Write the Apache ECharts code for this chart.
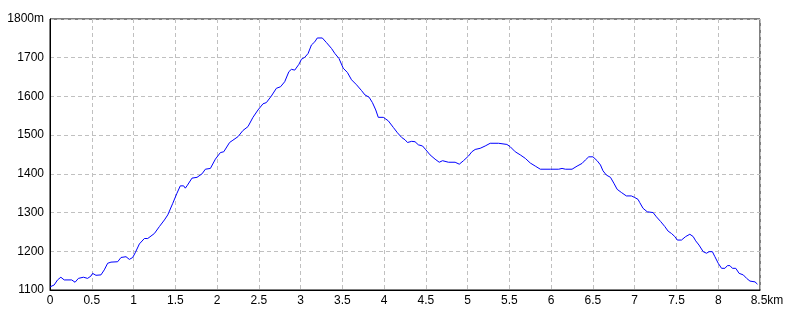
<!DOCTYPE html>
<html>
<head>
<meta charset="utf-8">
<script src="https://cdn.jsdelivr.net/npm/echarts@6/dist/echarts.min.js"></script>
<style>html,body{margin:0;padding:0;background:#fff;}#c{width:800px;height:320px;}</style>
</head>
<body>
<div id="c"></div>
<script>
const distanceKm = [0.00,0.05,0.09,0.13,0.17,0.26,0.30,0.34,0.40,0.45,0.49,0.51,0.55,0.61,0.65,0.69,0.73,0.81,0.85,0.91,0.95,0.99,1.02,1.07,1.13,1.17,1.25,1.31,1.37,1.41,1.47,1.52,1.56,1.60,1.62,1.64,1.70,1.76,1.82,1.86,1.92,1.98,2.04,2.08,2.15,2.19,2.25,2.31,2.37,2.43,2.49,2.55,2.59,2.65,2.71,2.76,2.81,2.86,2.89,2.93,2.95,2.98,3.01,3.05,3.09,3.13,3.17,3.20,3.26,3.31,3.37,3.41,3.46,3.51,3.56,3.61,3.67,3.73,3.77,3.82,3.86,3.90,3.93,3.99,4.05,4.11,4.16,4.21,4.25,4.28,4.33,4.37,4.41,4.46,4.50,4.55,4.61,4.66,4.70,4.77,4.85,4.90,4.95,5.01,5.05,5.09,5.15,5.21,5.27,5.37,5.47,5.51,5.57,5.63,5.69,5.75,5.81,5.87,5.99,6.09,6.13,6.17,6.25,6.31,6.37,6.41,6.45,6.50,6.55,6.59,6.62,6.66,6.71,6.75,6.79,6.84,6.90,6.96,7.00,7.04,7.06,7.10,7.15,7.22,7.26,7.31,7.36,7.40,7.44,7.48,7.51,7.56,7.61,7.66,7.70,7.73,7.77,7.82,7.86,7.89,7.93,7.96,8.00,8.04,8.08,8.11,8.14,8.17,8.21,8.25,8.30,8.34,8.38,8.44,8.47];
const elevationM = [1108,1113,1126,1133,1126,1126,1120,1130,1133,1130,1136,1143,1138,1139,1152,1169,1172,1173,1184,1186,1179,1184,1196,1219,1233,1233,1246,1264,1281,1294,1324,1350,1369,1369,1363,1369,1389,1391,1400,1412,1414,1438,1455,1457,1481,1487,1496,1512,1522,1546,1565,1581,1584,1601,1621,1625,1638,1664,1670,1668,1666,1683,1696,1701,1711,1733,1741,1751,1751,1739,1724,1711,1698,1673,1662,1643,1630,1615,1604,1598,1584,1565,1546,1546,1537,1520,1506,1494,1488,1481,1484,1483,1475,1472,1462,1449,1438,1430,1434,1430,1430,1425,1434,1446,1457,1463,1466,1472,1479,1479,1476,1470,1457,1449,1440,1428,1420,1412,1412,1412,1414,1412,1412,1420,1427,1436,1444,1444,1434,1423,1408,1397,1391,1376,1360,1352,1343,1343,1339,1334,1326,1311,1302,1300,1289,1277,1264,1252,1246,1238,1229,1229,1238,1244,1238,1227,1216,1199,1195,1199,1199,1186,1169,1156,1156,1163,1163,1156,1156,1143,1139,1130,1123,1121,1115];
const xTicks = {min: 0, max: 8.5, step: 0.5, unit: 'km'};
const yTicks = {min: 1100, max: 1800, step: 100, unit: 'm'};

const FONT = "'Liberation Sans Narrow', 'Liberation Sans', 'DejaVu Sans', sans-serif";
const FS = 12;
const chart = echarts.init(document.getElementById('c'), null, {renderer: 'canvas'});
const data = distanceKm.map((d, i) => [d, elevationM[i]]);
chart.setOption({
  animation: false,
  backgroundColor: '#ffffff',
  grid: {left: 50, right: 40, top: 19, bottom: 30, show: true, borderColor: '#000', borderWidth: 1, backgroundColor: 'transparent'},
  xAxis: {
    type: 'value', min: xTicks.min, max: xTicks.max, interval: xTicks.step,
    axisLine: {show: true, onZero: false, lineStyle: {color: '#000', width: 1}},
    axisTick: {show: false},
    splitLine: {show: true, lineStyle: {color: '#c0c0c0', type: [4, 3], width: 1}},
    axisLabel: {
      margin: 5, color: '#000', fontFamily: FONT, fontSize: FS,
      formatter: v => v === xTicks.max ? '{p| }' + v + xTicks.unit : String(v),
      rich: {p: {width: 14, fontFamily: FONT, fontSize: FS}}
    }
  },
  yAxis: {
    type: 'value', min: yTicks.min, max: yTicks.max, interval: yTicks.step,
    axisLine: {show: true, lineStyle: {color: '#000', width: 1}},
    axisTick: {show: false},
    splitLine: {show: true, lineStyle: {color: '#c0c0c0', type: [4, 3], width: 1}},
    axisLabel: {
      margin: 6, color: '#000', fontFamily: FONT, fontSize: FS,
      formatter: v => v === yTicks.max ? v + yTicks.unit : String(v)
    }
  },
  series: [{
    type: 'line', data: data, showSymbol: false, symbol: 'none',
    lineStyle: {color: '#0000ff', width: 1}, silent: true
  }]
});
</script>
</body>
</html>
